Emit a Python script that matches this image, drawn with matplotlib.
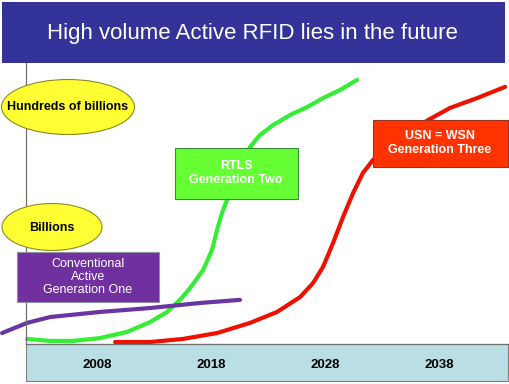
import matplotlib.pyplot as plt
from matplotlib.patches import Rectangle, Ellipse

plt.rcParams['font.family'] = ['Liberation Sans', 'DejaVu Sans']

title = 'High volume Active RFID lies in the future'
tick_years = [2008, 2018, 2028, 2038]
tick_labels = ['2008', '2018', '2028', '2038']

# generation one - conventional active
purple_year = [1999.67, 2001.86, 2003.88, 2008.26, 2012.65, 2017.04, 2020.54]
purple_vol = [3.9, 7.5, 9.6, 11.4, 12.8, 14.6, 15.7]

# generation two - RTLS
green_year = [2001.86, 2003.88, 2005.89, 2008.26, 2010.63, 2012.65, 2014.14,
              2015.28, 2016.16, 2017.30, 2018.09, 2018.53, 2018.96, 2019.40,
              2020.37, 2021.42, 2022.30, 2023.44, 2024.93, 2026.42, 2027.82,
              2029.32, 2030.81]
green_vol = [1.8, 1.1, 1.1, 2.1, 4.3, 7.8, 11.4,
             15.7, 19.9, 26.3, 33.5, 40.6, 46.6, 51.3,
             61.2, 70.1, 74.4, 77.9, 81.5, 84.3, 87.5,
             90.4, 94.0]

# generation three - USN = WSN
red_year = [2009.58, 2012.65, 2015.54, 2018.53, 2021.42, 2023.79, 2025.81,
            2026.95, 2027.82, 2028.70, 2029.58, 2030.46, 2031.33, 2032.21,
            2034.58, 2037.04, 2038.96, 2041.33, 2043.79]
red_vol = [0.7, 0.7, 1.8, 3.9, 7.5, 11.4, 16.7,
           21.7, 27.4, 35.9, 45.2, 53.7, 60.9, 65.5,
           73.3, 79.7, 84.0, 87.5, 91.5]

W, H = 510, 384
fig = plt.figure(figsize=(W / 100, H / 100), dpi=100)


def fx(x):
    return x / W


def fy(y):
    return 1 - y / H


# plot area, pixels 26..508 x 63..344
ax = fig.add_axes([fx(26), fy(344), (508 - 26) / W, (344 - 63) / H])
ax.set_xlim(2001.77, 2044.05)
ax.set_ylim(0, 100)
for s in ['top', 'right']:
    ax.spines[s].set_visible(False)
for s in ['left', 'bottom']:
    ax.spines[s].set_color('#707070')
    ax.spines[s].set_linewidth(0.9)
ax.set_yticks([])
ax.set_xticks(tick_years)
ax.set_xticklabels(tick_labels, fontsize=9.5, fontweight='bold')
ax.tick_params(axis='x', length=0, pad=10.5)
ax.patch.set_alpha(0)

# light blue band under the axis
ax.add_patch(Rectangle((fx(26), fy(381)), (508 - 26) / W, (381 - 344) / H,
                       transform=fig.transFigure, facecolor='#b9dee3',
                       edgecolor='#808080', linewidth=0.8, clip_on=False,
                       zorder=0.1))

ax.plot(green_year, green_vol, color='#33ee33', lw=3, clip_on=False,
        solid_capstyle='round', solid_joinstyle='round', zorder=2)
ax.plot(red_year, red_vol, color='#ee1100', lw=3, clip_on=False,
        solid_capstyle='round', solid_joinstyle='round', zorder=2)
ax.plot(purple_year, purple_vol, color='#6a35a2', lw=3, clip_on=False,
        solid_capstyle='round', solid_joinstyle='round', zorder=2.5)

# title banner
ax.add_patch(Rectangle((fx(2), fy(63)), 503 / W, 61 / H,
                       transform=fig.transFigure, facecolor='#333399',
                       edgecolor='none', clip_on=False, zorder=4))
ax.text(fx(252), fy(34), title, transform=fig.transFigure, color='white',
        fontsize=16, ha='center', va='center', zorder=5)

# yellow ellipses
ax.add_patch(Ellipse((fx(68), fy(107)), 133 / W, 55 / H,
                     transform=fig.transFigure, facecolor='#ffff33',
                     edgecolor='#8a8a20', lw=0.8, clip_on=False, zorder=4))
ax.text(fx(68), fy(107), 'Hundreds of billions', transform=fig.transFigure,
        fontsize=9, fontweight='bold', ha='center', va='center', zorder=5)
ax.add_patch(Ellipse((fx(52), fy(227)), 100 / W, 47 / H,
                     transform=fig.transFigure, facecolor='#ffff33',
                     edgecolor='#8a8a20', lw=0.8, clip_on=False, zorder=4))
ax.text(fx(52), fy(228), 'Billions', transform=fig.transFigure,
        fontsize=9, fontweight='bold', ha='center', va='center', zorder=5)

# generation boxes
ax.add_patch(Rectangle((fx(17), fy(302)), 142 / W, 50 / H,
                       transform=fig.transFigure, facecolor='#7030a0',
                       edgecolor='#9090a0', lw=0.8, clip_on=False, zorder=4))
ax.text(fx(88), fy(277), 'Conventional\nActive\nGeneration One',
        transform=fig.transFigure, color='white', fontsize=9,
        ha='center', va='center', linespacing=1.15, zorder=5)

ax.add_patch(Rectangle((fx(175), fy(199)), 123 / W, 51 / H,
                       transform=fig.transFigure, facecolor='#66ff33',
                       edgecolor='#3c8a3c', lw=0.8, clip_on=False, zorder=4))
ax.text(fx(236), fy(173), 'RTLS\nGeneration Two',
        transform=fig.transFigure, color='white', fontsize=9,
        fontweight='bold', ha='center', va='center', linespacing=1.2, zorder=5)

ax.add_patch(Rectangle((fx(373), fy(167)), 135 / W, 47 / H,
                       transform=fig.transFigure, facecolor='#ff3300',
                       edgecolor='#993322', lw=0.8, clip_on=False, zorder=4))
ax.text(fx(440), fy(143), 'USN = WSN\nGeneration Three',
        transform=fig.transFigure, color='white', fontsize=9,
        fontweight='bold', ha='center', va='center', linespacing=1.2, zorder=5)

fig.savefig('out.png', dpi=100)
